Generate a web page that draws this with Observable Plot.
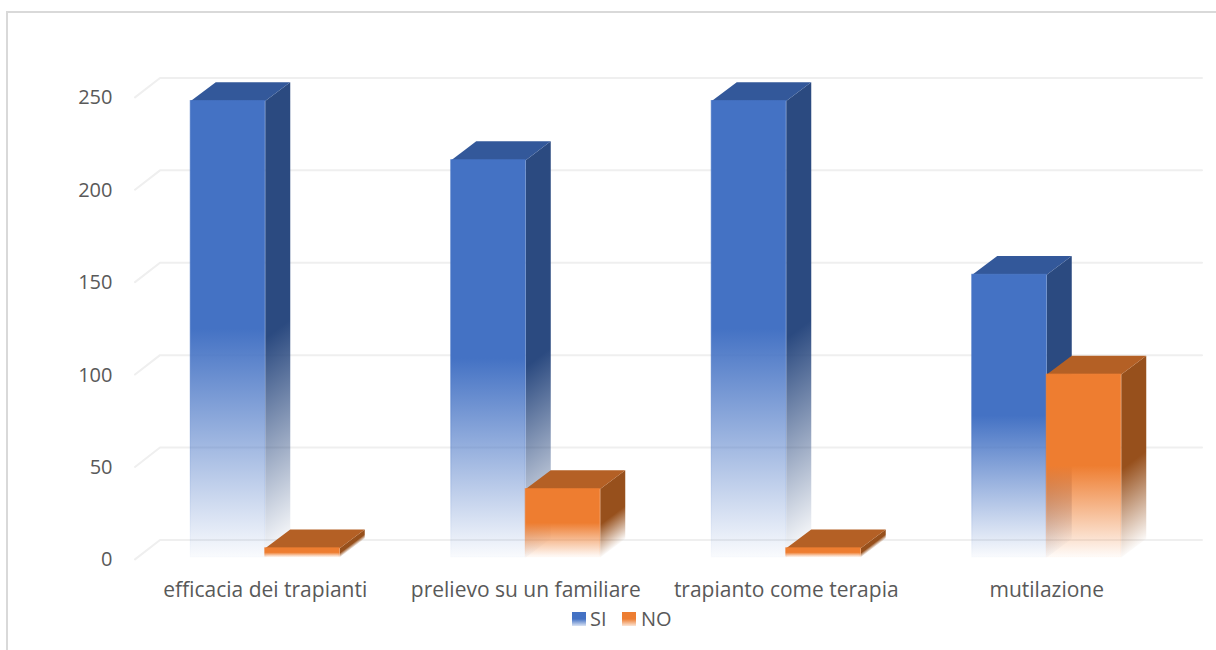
<!DOCTYPE html>
<html lang="it">
<head>
<meta charset="utf-8">
<script src="https://cdn.jsdelivr.net/npm/d3@7"></script>
<script src="https://cdn.jsdelivr.net/npm/@observablehq/plot@0.6"></script>
<style>
  html, body { margin: 0; background: #fff; width: 1216px; height: 650px; overflow: hidden; }
  body { position: relative; font-family: "Open Sans", sans-serif; color: #595959; }
  svg { display: block; }
  #frame { position: absolute; left: 6px; top: 11px; right: 0; bottom: 0; border-left: 2px solid #d9d9d9; border-top: 2px solid #d9d9d9; pointer-events: none; }
  #legend { position: relative; height: 45px; }
  #legend span { position: absolute; top: 1px; font-size: 20px; line-height: 26px; }
  #legend i { position: absolute; top: 7px; width: 14px; height: 14px; }
</style>
</head>
<body>
<div id="chart"></div>
<div id="legend">
  <i style="left:572px;background:linear-gradient(#4472c4 50%,#4472c433)"></i><span style="left:590px">SI</span>
  <i style="left:622px;background:linear-gradient(#ed7d31 50%,#ed7d3133)"></i><span style="left:641px">NO</span>
</div>
<div id="frame"></div>
<script>
const categories = ["efficacia dei trapianti", "prelievo su un familiare", "trapianto come terapia", "mutilazione"];
const si = [247, 215, 247, 153];
const no = [5, 37, 5, 99];
const ticks = [0, 50, 100, 150, 200, 250];

// Extruded look: depth of the bars and floor, in scale units
const barWidth = 0.286;
const depthX = 0.096;
const depthY = 10.2;
const gridLift = 9.5;
const gridDrop = -1;

const colors = {
  si: {front: "#4472c4", side: "#2b4a80", top: "#33589a"},
  no: {front: "#ee7d30", side: "#97501c", top: "#b46025"}
};

const fade = (id, color, x2, y1, y2, start = 0.5) => `
  <linearGradient id="${id}" x1="0" y1="${y1}" x2="${x2}" y2="${y2}">
    <stop offset="0" stop-color="${color}"/>
    <stop offset="${start}" stop-color="${color}"/>
    <stop offset="1" stop-color="${color}" stop-opacity="0.03"/>
  </linearGradient>`;

// Side faces fade along their slanted lower edge, so each bar has its own vector
function sideGradient(id, color, value) {
  const d = depthY / (value + depthY);
  const k = (1 - d) / (1 + d * d);
  return fade(id, color, d * k, d, d + k, 0.52);
}

function barMarks(key, values, offset) {
  const c = colors[key];
  const bars = values.map((v, i) => ({v, x1: i + 0.5 + offset, x2: i + 0.5 + offset + barWidth}));
  const marks = [];
  bars.forEach((b, i) => {
    marks.push(Plot.line(
      [[b.x2, b.v], [b.x2 + depthX, b.v + depthY], [b.x2 + depthX, depthY], [b.x2, 0]],
      {x: "0", y: "1", fill: `url(#side-${key}-${i})`, stroke: "none"}
    ));
    marks.push(Plot.line(
      [[b.x1, b.v], [b.x2, b.v], [b.x2 + depthX, b.v + depthY], [b.x1 + depthX, b.v + depthY]],
      {x: "0", y: "1", fill: c.top, stroke: "none"}
    ));
  });
  marks.push(Plot.rect(bars, {
    x1: "x1", x2: "x2", y1: 0, y2: "v",
    fill: `url(#front-${key})`,
    stroke: `url(#front-${key})`,
    strokeWidth: 1,
    strokeOpacity: 0.7
  }));
  return marks;
}

const gradients = () => {
  const defs = d3.create("svg:defs");
  defs.html(
    fade("front-si", colors.si.front, 0, 0, 1) +
    fade("front-no", colors.no.front, 0, 0, 1) +
    si.map((v, i) => sideGradient(`side-si-${i}`, colors.si.side, v)).join("") +
    no.map((v, i) => sideGradient(`side-no-${i}`, colors.no.side, v)).join("")
  );
  return defs.node();
};

const gridLines = ticks.map(t => Plot.line(
  [[0, t + gridDrop], [depthX, t + gridLift], [4 + depthX, t + gridLift]],
  {x: "0", y: "1", stroke: "#efefef", strokeWidth: 2}
));

const chart = Plot.plot({
  width: 1216,
  height: 605,
  marginLeft: 134.5,
  marginRight: 39.5,
  marginTop: 50,
  marginBottom: 48,
  style: {fontFamily: "'Open Sans', sans-serif", fontSize: "20px", color: "#595959", background: "#fff"},
  x: {domain: [0, 4]},
  y: {domain: [0, 250], range: [557, 95]},
  marks: [
    gradients,
    ...gridLines,
    Plot.axisY({ticks, tickSize: 0, tickPadding: 22.5, dy: 2.5, label: null, fill: "#595959"}),
    Plot.axisX({
      ticks: categories.map((_, i) => i + 0.5),
      tickFormat: v => categories[Math.floor(v)],
      tickSize: 0,
      tickPadding: 25,
      label: null,
      fill: "#595959",
      fontSize: 21,
      textAnchor: "middle"
    }),
    ...barMarks("si", si, -barWidth),
    ...barMarks("no", no, 0)
  ]
});
document.getElementById("chart").append(chart);
</script>
</body>
</html>
